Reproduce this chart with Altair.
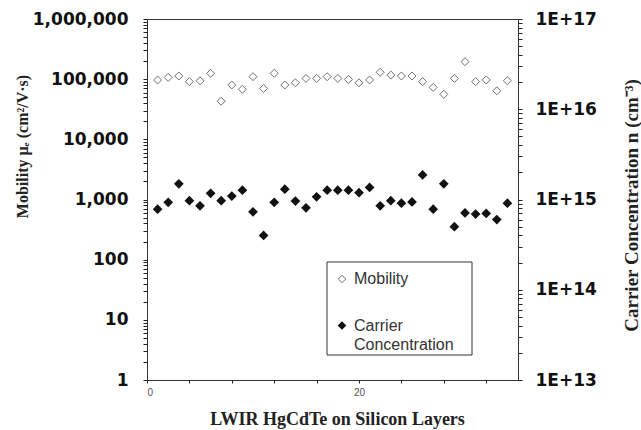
import altair as alt
import pandas as pd

# ---- data ----
layer = list(range(1, 35))
mobility = [97000, 107000, 113000, 91000, 94000, 125000, 43000, 80000, 68000, 110000,
            70000, 125000, 80000, 87000, 103000, 103000, 110000, 103000, 99000, 87000,
            97000, 130000, 117000, 113000, 113000, 91000, 73000, 56000, 103000, 195000,
            91000, 97000, 64000, 94000]
carrier = [7.8e14, 9.3e14, 1.49e15, 9.7e14, 8.5e14, 1.17e15, 9.7e14, 1.09e15, 1.27e15, 7.3e14,
           4.0e14, 9.3e14, 1.30e15, 9.6e14, 8.1e14, 1.07e15, 1.27e15, 1.27e15, 1.27e15, 1.19e15,
           1.36e15, 8.5e14, 9.7e14, 9.1e14, 9.4e14, 1.87e15, 7.8e14, 1.49e15, 5.0e14, 7.1e14,
           6.9e14, 7.0e14, 6.0e14, 9.1e14]

x_ticks = list(range(0, 36))
x_domain = [0, 35]
left_decades = [1, 10, 100, 1000, 10000, 100000, 1000000]
right_decades = [1e13, 1e14, 1e15, 1e16, 1e17]
minor_mult = [2, 3, 4, 5, 6, 7, 8, 9]

W, H = 371, 361

df = pd.DataFrame({"layer": layer, "mob": mobility, "car": carrier})
left_vals = left_decades + [d * m for d in left_decades[:-1] for m in minor_mult]
right_vals = right_decades + [d * m for d in right_decades[:-1] for m in minor_mult]

xscale = alt.Scale(domain=x_domain, nice=False)
lscale = alt.Scale(type="log", domain=[1, 1e6], nice=False)
rscale = alt.Scale(type="log", domain=[1e13, 1e17], nice=False)

INK = "#222222"
DECADE = "abs(log(datum.value)/LN10 - round(log(datum.value)/LN10)) < 1e-6"

x_axis = alt.Axis(values=x_ticks, labelExpr="datum.value % 5 == 0 ? datum.label : ''",
                  labelOverlap=False, zindex=1,
                  ticks=True, tickSize=3, tickColor=INK, domain=False, grid=False,
                  labelFont="Liberation Sans", labelFontSize=10, labelColor="#555555",
                  labelPadding=4,
                  title="LWIR HgCdTe on Silicon Layers", titleFont="Liberation Serif",
                  titleFontSize=18, titleFontWeight="bold", titleColor=INK,
                  titleX=190, titleY=39, titleBaseline="middle", titleAlign="center")

left_axis = alt.Axis(orient="left", values=left_vals,
                     labelExpr=DECADE + " ? format(datum.value, ',d') : ''",
                     labelOverlap=False, zindex=1,
                     ticks=True, tickSize=4, tickColor=INK,
                     domain=False, grid=False,
                     labelFont="DejaVu Sans", labelFontSize=17, labelFontWeight="bold",
                     labelColor="#111111", labelPadding=15,
                     title="Mobility μₑ (cm²/V·s)", titleFont="Liberation Serif",
                     titleFontSize=16, titleFontWeight="bold", titleColor=INK,
                     titleAngle=270, titleX=-125, titleY=127,
                     titleBaseline="middle", titleAlign="center")

right_axis = alt.Axis(orient="right", values=right_vals,
                      labelExpr=DECADE + " ? '1E+' + format(log(datum.value)/LN10, '.0f') : ''",
                      labelOverlap=False, zindex=1,
                      ticks=True, tickSize=4, tickColor=INK,
                      domain=False, grid=False,
                      labelFont="DejaVu Sans", labelFontSize=17, labelFontWeight="bold",
                      labelColor="#111111", labelPadding=13,
                      title="Carrier Concentration n (cm⁻³)", titleFont="Liberation Serif",
                      titleFontSize=19, titleFontWeight="bold", titleColor=INK,
                      titleAngle=270, titleX=113, titleY=186,
                      titleBaseline="middle", titleAlign="center")

mob_pts = alt.Chart(df).mark_point(shape="diamond", filled=False, size=64,
                                   stroke="#333333", strokeWidth=1).encode(
    x=alt.X("layer:Q", scale=xscale, axis=x_axis),
    y=alt.Y("mob:Q", scale=lscale, axis=left_axis),
)
car_pts = alt.Chart(df).mark_point(shape="diamond", filled=True, size=95,
                                   color="#111111", opacity=1).encode(
    x=alt.X("layer:Q", scale=xscale),
    y=alt.Y("car:Q", scale=rscale, axis=right_axis),
)

# ---- legend box ----
one = pd.DataFrame({"a": [0]})
leg_box = alt.Chart(one).mark_rect(
    fill="white", stroke="#333333", strokeWidth=1).encode(
    x=alt.value(180), x2=alt.value(325), y=alt.value(243), y2=alt.value(336))
leg_mob = alt.Chart(one).mark_point(
    shape="diamond", filled=False, size=55, stroke="#333333", strokeWidth=1).encode(
    x=alt.value(195), y=alt.value(260))
leg_car = alt.Chart(one).mark_point(
    shape="diamond", filled=True, size=75, color="#111111", opacity=1).encode(
    x=alt.value(195), y=alt.value(306.5))
leg_labels = ["Mobility", "Carrier", "Concentration"]
leg_t1 = alt.Chart(one).mark_text(align="left", baseline="middle", font="Liberation Sans",
                                  fontSize=16, color="#333333", text=leg_labels[0]).encode(
    x=alt.value(207), y=alt.value(260))
leg_t2 = alt.Chart(one).mark_text(align="left", baseline="middle", font="Liberation Sans",
                                  fontSize=16, color="#333333", text=leg_labels[1]).encode(
    x=alt.value(207), y=alt.value(306.5))
leg_t3 = alt.Chart(one).mark_text(align="left", baseline="middle", font="Liberation Sans",
                                  fontSize=16, color="#333333", text=leg_labels[2]).encode(
    x=alt.value(207), y=alt.value(326))

chart = alt.layer(
    mob_pts, car_pts, leg_box, leg_mob, leg_car, leg_t1, leg_t2, leg_t3
).resolve_scale(y="independent").properties(
    width=W, height=H,
    padding={"left": 147, "top": 19, "right": 123, "bottom": 50},
    autosize=alt.AutoSizeParams(type="none"),
    background="white",
).configure_view(stroke="#333333", strokeWidth=1)

chart.save("out.html", embed_options={"renderer": "svg", "actions": False})
